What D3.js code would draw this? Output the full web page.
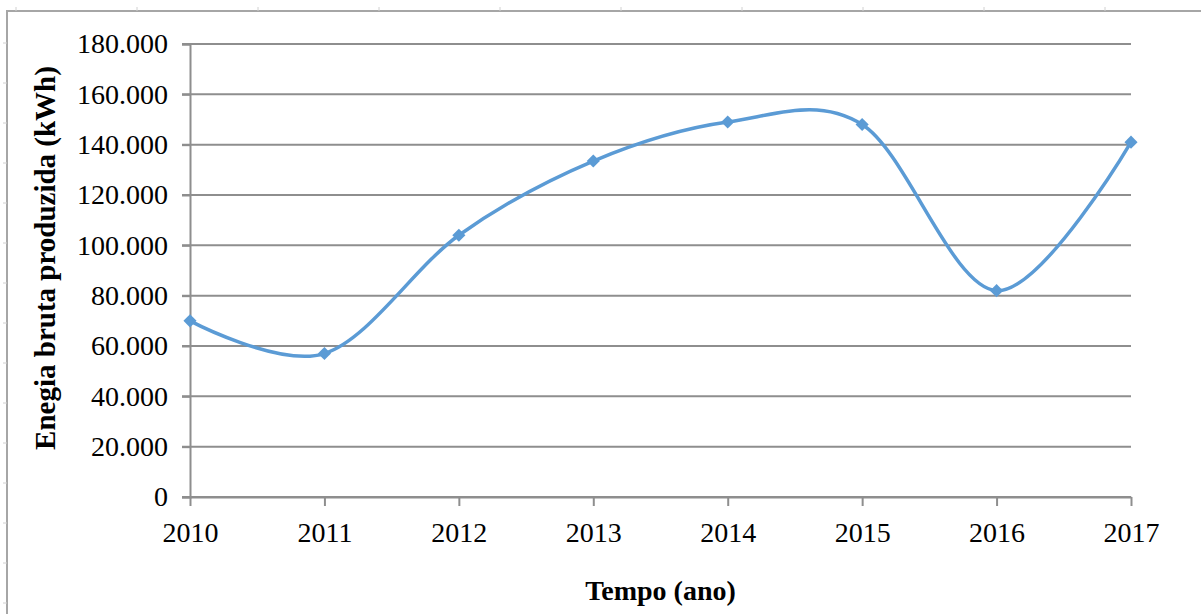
<!DOCTYPE html>
<html>
<head>
<meta charset="utf-8">
<script src="https://cdn.jsdelivr.net/npm/d3@7"></script>
<style>
  html, body { margin: 0; padding: 0; background: #fff; }
  svg { display: block; }
</style>
</head>
<body>
<svg id="chart" width="1201" height="614"></svg>
<script>
const years = [2010, 2011, 2012, 2013, 2014, 2015, 2016, 2017];
const energy = [70000, 57000, 104000, 133500, 149000, 148000, 82000, 141000];
const yTicks = [0, 20000, 40000, 60000, 80000, 100000, 120000, 140000, 160000, 180000];
const xTitle = "Tempo (ano)";
const yTitle = "Enegia bruta produzida (kWh)";

const svg = d3.select("#chart");
const W = 1201, H = 614;
const m = { left: 190, right: 70, top: 44, bottom: 117 };
const x = d3.scalePoint().domain(years).range([m.left, W - m.right]);
const y = d3.scaleLinear().domain([0, 180000]).range([H - m.bottom, m.top]);

const fmt = v => v === 0 ? "0" : d3.format(",")(v).replace(/,/g, ".");

// outer frame
svg.append("path")
  .attr("d", `M7,${H} V11 H${W}`)
  .attr("fill", "none").attr("stroke", "#a6a6a6").attr("stroke-width", 2);
// faint ruler marks
const lm = d3.range(43, H, 40);
svg.selectAll(".lm").data(lm).enter().append("line")
  .attr("x1", 3).attr("x2", 7).attr("y1", d => d).attr("y2", d => d)
  .attr("stroke", "#d0d0d0").attr("stroke-width", 1);
const tm = d3.range(16, W, 121);
svg.selectAll(".tm").data(tm).enter().append("line")
  .attr("x1", d => d).attr("x2", d => d).attr("y1", 7).attr("y2", 11)
  .attr("stroke", "#d0d0d0").attr("stroke-width", 1);

// gridlines
svg.append("g").selectAll("line").data(yTicks).enter().append("line")
  .attr("x1", m.left - 8).attr("x2", W - m.right)
  .attr("y1", d => y(d)).attr("y2", d => y(d))
  .attr("stroke", "#8e8e8e").attr("stroke-width", 2);

// y axis
const yAxis = svg.append("g").attr("transform", `translate(${m.left},0)`)
  .call(d3.axisLeft(y).tickValues(yTicks).tickFormat(fmt).tickSize(8).tickPadding(14));
yAxis.select(".domain").attr("stroke", "#8e8e8e").attr("stroke-width", 2);
yAxis.selectAll(".tick line").attr("stroke", "#8e8e8e").attr("stroke-width", 2);
yAxis.selectAll("text").attr("font-family", "Liberation Serif").attr("font-size", 28).attr("fill", "#000");

// x axis
const xAxis = svg.append("g").attr("transform", `translate(0,${y(0)})`)
  .call(d3.axisBottom(x).tickSize(9).tickPadding(16).tickSizeOuter(0));
xAxis.select(".domain").attr("stroke", "#8e8e8e").attr("stroke-width", 2);
xAxis.selectAll(".tick line").attr("stroke", "#8e8e8e").attr("stroke-width", 2);
xAxis.selectAll("text").attr("font-family", "Liberation Serif").attr("font-size", 28).attr("fill", "#000");

// line
const line = d3.line().x((d, i) => x(years[i])).y(d => y(d)).curve(d3.curveCardinal.tension(0));
svg.append("path").datum(energy)
  .attr("d", line).attr("fill", "none")
  .attr("stroke", "#5b9bd5").attr("stroke-width", 3.5);

// markers
svg.append("g").selectAll("path").data(energy).enter().append("path")
  .attr("d", d3.symbol(d3.symbolDiamond2, 110))
  .attr("transform", (d, i) => `translate(${x(years[i])},${y(d)})`)
  .attr("fill", "#5b9bd5");

// titles
svg.append("text").attr("x", (m.left + W - m.right) / 2).attr("y", 600)
  .attr("text-anchor", "middle").attr("font-family", "Liberation Serif")
  .attr("font-weight", "bold").attr("font-size", 28).attr("fill", "#000").text(xTitle);
svg.append("text").attr("transform", "translate(55,258) rotate(-90)")
  .attr("text-anchor", "middle").attr("font-family", "Liberation Serif")
  .attr("font-weight", "bold").attr("font-size", 29).attr("fill", "#000").text(yTitle);
</script>
</body>
</html>
